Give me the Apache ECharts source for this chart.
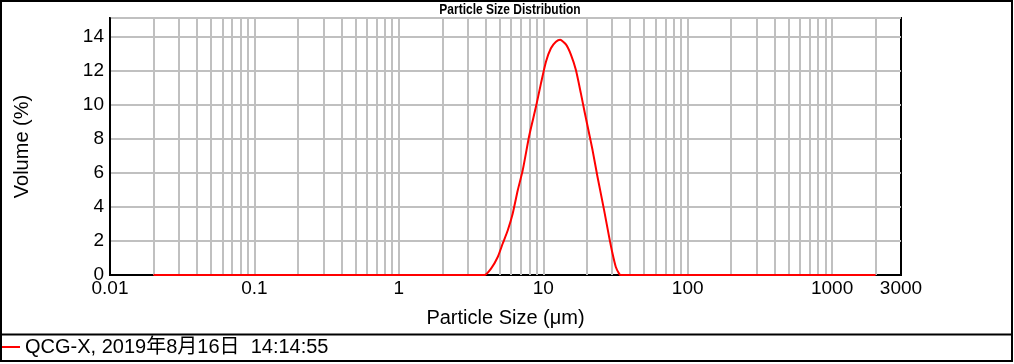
<!DOCTYPE html>
<html>
<head>
<meta charset="utf-8">
<script src="https://cdn.jsdelivr.net/npm/echarts@6/dist/echarts.min.js"></script>
<style>
html,body{margin:0;padding:0;background:#fff;}
#chart{width:1014px;height:364px;}
</style>
</head>
<body>
<div id="chart"></div>
<script>
// ---- data ----
const TITLE = 'Particle Size Distribution';
const SERIES_NAME = 'QCG-X, 2019年8月16日  14:14:55';
const X_NAME = 'Particle Size (μm)';
const Y_NAME = 'Volume (%)';
const SIZES = [0.02, 1, 3.5, 3.91, 4.35, 4.84, 5.24, 5.68, 6.14, 6.66, 7.21, 8.0, 8.9, 9.64, 10.44, 11.3, 12.24, 13.1, 14.35, 15.54, 16.83, 18.22, 19.42, 20.79, 21.94, 23.76, 26.4, 28.58, 30.17, 31.8, 33.5, 34.4, 100, 2000];
const VOLUMES = [0, 0, 0, 0, 0.38, 1.06, 1.85, 2.63, 3.6, 4.98, 6.16, 8.2, 9.88, 11.26, 12.53, 13.32, 13.7, 13.82, 13.55, 12.95, 12.04, 10.67, 9.5, 8.3, 7.34, 5.76, 3.8, 2.24, 1.26, 0.47, 0.08, 0, 0, 0];
const X_MIN = 0.01, X_MAX = 3000;
const Y_MIN = 0, Y_MAX = 15.1, Y_STEP = 2;
const GRID_DECADES = [0.01, 0.1, 1, 10, 100, 1000];
const GRID_MULTS = [1, 2, 3, 4, 5, 6, 7, 8, 9];

const points = SIZES.map((s, i) => [s, VOLUMES[i]]);
const gridX = [];
GRID_DECADES.forEach(d => GRID_MULTS.forEach(m => {
  const v = +(d * m).toPrecision(6);
  if (v > X_MIN && v < X_MAX) gridX.push(v);
}));

const FONT = '"Liberation Sans", Arial, "Noto Sans CJK SC", sans-serif';
const chart = echarts.init(document.getElementById('chart'), null, {renderer: 'canvas'});
chart.setOption({
  animation: false,
  backgroundColor: '#fff',
  textStyle: {fontFamily: FONT},
  grid: {left: 110, right: 113, top: 18, bottom: 89, show: true, borderColor: '#000', borderWidth: 2, backgroundColor: '#fff'},
  legend: {
    data: [SERIES_NAME], left: 0, top: 337, padding: 0,
    icon: 'rect', itemWidth: 20, itemHeight: 2,
    textStyle: {fontSize: 20, color: '#000', fontFamily: FONT}
  },
  xAxis: {
    type: 'log', logBase: 10, min: X_MIN, max: X_MAX,
    name: X_NAME, nameLocation: 'middle', nameGap: 33,
    nameTextStyle: {fontSize: 20, color: '#000', fontFamily: FONT},
    axisLine: {show: true, lineStyle: {color: '#000', width: 2}},
    axisTick: {show: false},
    splitLine: {show: false},
    axisLabel: {fontSize: 19, color: '#000', margin: 4, showMinLabel: true, showMaxLabel: true, hideOverlap: false,
      formatter: v => String(+(+v).toPrecision(6))}
  },
  yAxis: {
    type: 'value', min: Y_MIN, max: Y_MAX, interval: Y_STEP,
    name: Y_NAME, nameLocation: 'middle', nameGap: 78,
    nameTextStyle: {fontSize: 20, color: '#000', fontFamily: FONT},
    axisLine: {show: true, lineStyle: {color: '#000', width: 2}},
    axisTick: {show: false},
    splitLine: {show: true, lineStyle: {color: '#c0c0c0', width: 2}},
    axisLabel: {fontSize: 19, color: '#000', margin: 6,
      formatter: v => (Math.abs(v / Y_STEP - Math.round(v / Y_STEP)) < 1e-6 ? String(Math.round(v)) : '')}
  },
  series: [
    {
      name: '_grid', type: 'line', data: points, silent: true, showSymbol: false, z: 1,
      lineStyle: {opacity: 0}, tooltip: {show: false},
      markLine: {
        silent: true, symbol: 'none', animation: false, label: {show: false},
        lineStyle: {color: '#c0c0c0', width: 2, type: 'solid'},
        emphasis: {disabled: true},
        data: gridX.map(v => ({xAxis: v}))
      }
    },
    {
      name: SERIES_NAME, type: 'line', data: points, showSymbol: false, z: 5, smooth: 0.2,
      color: '#ff0000', lineStyle: {color: '#ff0000', width: 2}
    }
  ],
  graphic: [
    {type: 'text', z: 100, silent: true, x: 510, y: 10, scaleX: 0.8,
      style: {text: TITLE, fill: '#000', align: 'center', verticalAlign: 'middle',
        font: 'bold 15px "Liberation Sans", Arial, sans-serif'}},
    {type: 'rect', z: 100, silent: true, shape: {x: 1, y: 1, width: 1011, height: 360}, style: {fill: 'none', stroke: '#000', lineWidth: 2}},
    {type: 'line', z: 100, silent: true, shape: {x1: 0, y1: 334.5, x2: 1013, y2: 334.5}, style: {stroke: '#000', lineWidth: 2}}
  ]
});
</script>
</body>
</html>
